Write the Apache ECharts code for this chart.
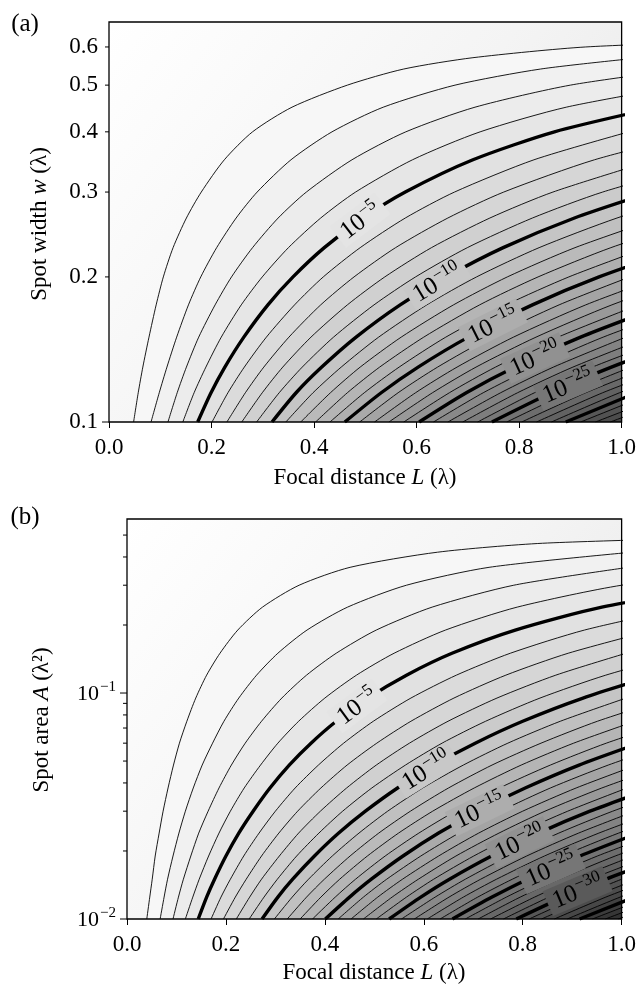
<!DOCTYPE html>
<html>
<head>
<meta charset="utf-8">
<script src="https://cdn.jsdelivr.net/npm/echarts@6/dist/echarts.min.js"></script>
<style>
html, body { margin: 0; padding: 0; background: #fff; }
#main { width: 639px; height: 986px; }
</style>
</head>
<body>
<div id="main"></div>
<script>
// tick values
var focalTicks = [0, 0.2, 0.4, 0.6, 0.8, 1.0];
var widthTicks = [0.1, 0.2, 0.3, 0.4, 0.5, 0.6];
var areaMajorTicks = [0.01, 0.1];
var areaMinorTicks = [0.02, 0.03, 0.04, 0.05, 0.06, 0.07, 0.08, 0.09, 0.2, 0.3, 0.4, 0.5];

// (a) contour lines 10^-1 ... 10^-33 : focal distance L read at each spot width
var widthLevels = [0.1, 0.115, 0.13, 0.15, 0.175, 0.2, 0.23, 0.265, 0.3, 0.35, 0.4, 0.45, 0.5, 0.54, 0.57, 0.6, 0.62];
var focalA = [
  [0.048, 0.057, 0.066, 0.078, 0.092, 0.106, 0.125, 0.151, 0.180, 0.225, 0.280, 0.357, 0.465, 0.575, 0.710, 0.930, 1.280],
  [0.082, 0.098, 0.113, 0.132, 0.155, 0.179, 0.210, 0.248, 0.289, 0.355, 0.435, 0.535, 0.675, 0.842, 1.038],
  [0.115, 0.133, 0.151, 0.175, 0.207, 0.239, 0.280, 0.330, 0.385, 0.474, 0.579, 0.714, 0.900, 1.122],
  [0.144, 0.166, 0.189, 0.219, 0.258, 0.299, 0.350, 0.413, 0.481, 0.592, 0.724, 0.892, 1.124],
  [0.173, 0.199, 0.226, 0.263, 0.310, 0.359, 0.420, 0.496, 0.578, 0.710, 0.869, 1.071],
  [0.201, 0.232, 0.264, 0.307, 0.362, 0.418, 0.490, 0.578, 0.674, 0.829, 1.014],
  [0.230, 0.266, 0.302, 0.351, 0.413, 0.478, 0.559, 0.661, 0.770, 0.947, 1.159],
  [0.259, 0.299, 0.339, 0.394, 0.465, 0.538, 0.629, 0.743, 0.866, 1.065],
  [0.288, 0.332, 0.377, 0.438, 0.517, 0.598, 0.699, 0.826, 0.963, 1.184],
  [0.318, 0.365, 0.415, 0.482, 0.568, 0.658, 0.769, 0.908, 1.059],
  [0.345, 0.398, 0.453, 0.526, 0.620, 0.717, 0.839, 0.991, 1.155],
  [0.374, 0.432, 0.490, 0.570, 0.672, 0.777, 0.909, 1.074],
  [0.403, 0.465, 0.528, 0.614, 0.723, 0.837, 0.979, 1.156],
  [0.431, 0.498, 0.566, 0.657, 0.775, 0.897, 1.049],
  [0.460, 0.531, 0.603, 0.701, 0.826, 0.956, 1.119],
  [0.489, 0.564, 0.641, 0.745, 0.878, 1.016],
  [0.518, 0.598, 0.679, 0.789, 0.930, 1.076],
  [0.546, 0.631, 0.716, 0.833, 0.981, 1.136],
  [0.575, 0.664, 0.754, 0.876, 1.033],
  [0.605, 0.697, 0.792, 0.920, 1.085],
  [0.633, 0.730, 0.830, 0.964, 1.136],
  [0.661, 0.764, 0.867, 1.008],
  [0.690, 0.797, 0.905, 1.052],
  [0.719, 0.830, 0.943, 1.096],
  [0.747, 0.863, 0.980, 1.139],
  [0.776, 0.896, 1.018],
  [0.805, 0.930, 1.056],
  [0.834, 0.963, 1.094],
  [0.863, 0.996, 1.131],
  [0.891, 1.029],
  [0.920, 1.062],
  [0.949, 1.096],
  [0.978, 1.129]
];

// (b) contour lines 10^-1 ... 10^-38 : focal distance L read at each spot area
var areaLevels = [0.01, 0.0125, 0.015, 0.019, 0.024, 0.03, 0.038, 0.048, 0.06, 0.075, 0.095, 0.12, 0.15, 0.19, 0.24, 0.3, 0.36, 0.42, 0.46, 0.49];
var focalB = [
  [0.040, 0.046, 0.051, 0.057, 0.065, 0.073, 0.083, 0.094, 0.106, 0.121, 0.139, 0.161, 0.188, 0.224, 0.274, 0.348, 0.451, 0.628, 0.840, 1.250],
  [0.067, 0.075, 0.082, 0.093, 0.105, 0.118, 0.134, 0.152, 0.173, 0.196, 0.226, 0.262, 0.305, 0.364, 0.446, 0.565, 0.732, 1.021],
  [0.093, 0.104, 0.114, 0.129, 0.145, 0.164, 0.186, 0.211, 0.239, 0.272, 0.313, 0.363, 0.423, 0.504, 0.617, 0.782, 1.014],
  [0.118, 0.133, 0.146, 0.165, 0.186, 0.209, 0.237, 0.270, 0.305, 0.347, 0.400, 0.464, 0.540, 0.644, 0.789, 1.000, 1.296],
  [0.144, 0.161, 0.177, 0.200, 0.226, 0.255, 0.289, 0.328, 0.372, 0.423, 0.487, 0.565, 0.657, 0.785, 0.960, 1.217],
  [0.170, 0.190, 0.209, 0.236, 0.267, 0.300, 0.340, 0.387, 0.438, 0.498, 0.574, 0.666, 0.775, 0.925, 1.131],
  [0.195, 0.219, 0.241, 0.272, 0.307, 0.345, 0.392, 0.445, 0.505, 0.574, 0.661, 0.766, 0.892, 1.065],
  [0.221, 0.248, 0.272, 0.308, 0.347, 0.391, 0.444, 0.504, 0.571, 0.649, 0.748, 0.867, 1.009],
  [0.247, 0.277, 0.304, 0.343, 0.388, 0.436, 0.495, 0.563, 0.637, 0.725, 0.835, 0.968, 1.127],
  [0.273, 0.305, 0.335, 0.379, 0.428, 0.482, 0.547, 0.621, 0.704, 0.800, 0.922, 1.069],
  [0.298, 0.334, 0.367, 0.415, 0.469, 0.527, 0.598, 0.680, 0.770, 0.876, 1.009],
  [0.324, 0.363, 0.399, 0.451, 0.509, 0.573, 0.650, 0.738, 0.837, 0.951, 1.096],
  [0.350, 0.392, 0.430, 0.486, 0.549, 0.618, 0.702, 0.797, 0.903, 1.027],
  [0.375, 0.421, 0.462, 0.522, 0.590, 0.664, 0.753, 0.856, 0.969, 1.102],
  [0.401, 0.450, 0.494, 0.558, 0.630, 0.709, 0.805, 0.914, 1.036],
  [0.427, 0.478, 0.525, 0.594, 0.671, 0.755, 0.856, 0.973, 1.102],
  [0.453, 0.507, 0.557, 0.630, 0.711, 0.800, 0.908, 1.031],
  [0.478, 0.536, 0.589, 0.665, 0.752, 0.845, 0.960, 1.090],
  [0.504, 0.565, 0.620, 0.701, 0.792, 0.891, 1.011],
  [0.530, 0.594, 0.652, 0.737, 0.832, 0.936, 1.063],
  [0.555, 0.623, 0.684, 0.773, 0.873, 0.982, 1.114],
  [0.581, 0.651, 0.715, 0.808, 0.913, 1.027],
  [0.607, 0.680, 0.747, 0.844, 0.954, 1.073],
  [0.633, 0.709, 0.779, 0.880, 0.994, 1.118],
  [0.658, 0.738, 0.810, 0.916, 1.034],
  [0.684, 0.767, 0.842, 0.951, 1.075],
  [0.710, 0.795, 0.874, 0.987, 1.115],
  [0.735, 0.824, 0.905, 1.023],
  [0.761, 0.853, 0.937, 1.059],
  [0.787, 0.882, 0.968, 1.094],
  [0.813, 0.911, 1.000],
  [0.838, 0.940, 1.032],
  [0.864, 0.968, 1.063],
  [0.890, 0.997, 1.095],
  [0.915, 1.026],
  [0.941, 1.055],
  [0.967, 1.084],
  [0.993, 1.112]
];

// labelled contours: [decade, focal distance where the label sits]
var labelsA = [[5, 0.49], [10, 0.64], [15, 0.749], [20, 0.831], [25, 0.895]];
var labelsB = [[5, 0.465], [10, 0.605], [15, 0.713], [20, 0.794], [25, 0.857], [30, 0.911]];

var FONT = '"Liberation Serif", "DejaVu Serif", serif';

function shade(k) {
  var g = Math.max(0, Math.round(255 - 5.5 * k));
  return 'rgb(' + g + ',' + g + ',' + g + ')';
}

function contourSeries(rows, levels, gi) {
  var areas = [], lines = [];
  rows.forEach(function (row, i) {
    var k = i + 1;
    var pts = row.map(function (L, j) { return [L, levels[j]]; });
    var common = {
      type: 'line', xAxisIndex: gi, yAxisIndex: gi, data: pts,
      smooth: 0.25, symbol: 'none', silent: true, animation: false
    };
    areas.push(Object.assign({}, common, {
      z: 1,
      lineStyle: { width: 0, opacity: 0 },
      areaStyle: { color: shade(k + 0.5), opacity: 1, origin: 'start' }
    }));
    lines.push(Object.assign({}, common, {
      z: 3,
      lineStyle: { color: '#000', width: k % 5 === 0 ? 3.4 : 0.9 }
    }));
  });
  return areas.concat(lines);
}

function xAxis(gi) {
  return {
    type: 'value', gridIndex: gi, min: 0, max: 1, interval: 0.2,
    axisLine: { show: false },
    axisTick: { show: true, inside: false, length: 6, lineStyle: { color: '#000', width: 1 } },
    axisLabel: { color: '#000', fontFamily: FONT, fontSize: 23, margin: 14,
      formatter: function (v) { return v.toFixed(1); } },
    splitLine: { show: false }
  };
}

function yAxis(gi, min, max) {
  return {
    type: 'log', logBase: 10, gridIndex: gi, min: min, max: max,
    axisLine: { show: false },
    axisTick: { show: false }, axisLabel: { show: false },
    splitLine: { show: false }, minorTick: { show: false }
  };
}

var bg = {
  type: 'linear', x: 0, y: 0, x2: 1, y2: 1,
  colorStops: [{ offset: 0, color: '#ffffff' }, { offset: 0.5, color: '#f4f4f4' }, { offset: 1, color: '#e4e4e4' }]
};

var chart = echarts.init(document.getElementById('main'), null, { renderer: 'canvas' });

var option = {
  animation: false,
  backgroundColor: '#fff',
  grid: [
    { left: 109, top: 22, width: 513, height: 400, show: true, borderWidth: 0, backgroundColor: bg },
    { left: 127, top: 519, width: 495, height: 400, show: true, borderWidth: 0, backgroundColor: bg }
  ],
  xAxis: [xAxis(0), xAxis(1)],
  yAxis: [yAxis(0, 0.1, 0.676), yAxis(1, 0.01, 0.589)],
  series: contourSeries(focalA, widthLevels, 0).concat(contourSeries(focalB, areaLevels, 1))
};
chart.setOption(option);

// ---- text, frame and ticks drawn on top ----
function supStyle(base, sup, raise) {
  return {
    b: { fontFamily: FONT, fontSize: base, fill: '#000', verticalAlign: 'bottom', lineHeight: base + 2 },
    s: { fontFamily: FONT, fontSize: sup, fill: '#000', verticalAlign: 'bottom', lineHeight: base + 2, padding: [0, 0, raise, 1] }
  };
}
var labelRich = supStyle(25, 17, 11);
var tickRich = supStyle(22, 15, 10);

function contourLabels(rows, levels, layout, gi) {
  return layout.map(function (item) {
    var k = item[0], L = item[1], row = rows[k - 1];
    var j = 0;
    while (j < row.length - 2 && row[j + 1] < L) j++;
    var p1 = chart.convertToPixel({ gridIndex: gi }, [row[j], levels[j]]);
    var p2 = chart.convertToPixel({ gridIndex: gi }, [row[j + 1], levels[j + 1]]);
    var t = (L - row[j]) / (row[j + 1] - row[j]);
    var x = p1[0] + t * (p2[0] - p1[0]);
    var y = p1[1] + t * (p2[1] - p1[1]);
    return {
      type: 'text', x: x, y: y, z: 100,
      rotation: Math.atan2(p1[1] - p2[1], p2[0] - p1[0]),
      style: {
        text: '{b|10}{s|\u2212' + k + '}', rich: labelRich,
        align: 'center', verticalAlign: 'middle',
        backgroundColor: shade(k), padding: [0, 6, 0, 6]
      }
    };
  });
}

function frame(gi, xMin, xMax, yMin, yMax) {
  var p0 = chart.convertToPixel({ gridIndex: gi }, [xMin, yMax]);
  var p1 = chart.convertToPixel({ gridIndex: gi }, [xMax, yMin]);
  return { type: 'rect', z: 110, shape: { x: p0[0], y: p0[1], width: p1[0] - p0[0], height: p1[1] - p0[1] },
    style: { fill: null, stroke: '#000', lineWidth: 1.3 } };
}

function yTicks(gi, values, len, texts) {
  var els = [];
  values.forEach(function (v, i) {
    var p = chart.convertToPixel({ gridIndex: gi }, [0, v]);
    els.push({ type: 'line', z: 100, shape: { x1: p[0] - len, y1: p[1], x2: p[0], y2: p[1] },
      style: { stroke: '#000', lineWidth: 1 } });
    if (texts) {
      var t = texts[i];
      els.push({ type: 'text', z: 100, x: p[0] - 11, y: p[1],
        style: typeof t === 'string'
          ? { text: t, fill: '#000', font: '23px ' + FONT, align: 'right', verticalAlign: 'middle' }
          : { text: '{b|10}{s|\u2212' + t + '}', rich: tickRich, align: 'right', verticalAlign: 'middle' } });
    }
  });
  return els;
}

var titleRich = {
  n: { fontFamily: FONT, fontSize: 23, fill: '#000' },
  i: { fontFamily: FONT, fontSize: 23, fill: '#000', fontStyle: 'italic' }
};

function title(text, x, y, rot) {
  return { type: 'text', z: 100, x: x, y: y, rotation: rot || 0,
    style: { text: text, rich: titleRich, align: 'center', verticalAlign: 'middle' } };
}

var graphics = []
  .concat(contourLabels(focalA, widthLevels, labelsA, 0))
  .concat(contourLabels(focalB, areaLevels, labelsB, 1))
  .concat([frame(0, 0, 1, 0.1, 0.676), frame(1, 0, 1, 0.01, 0.589)])
  .concat(yTicks(0, [widthTicks[0]], 7, ['0.1']))
  .concat(yTicks(0, widthTicks.slice(1), 4, widthTicks.slice(1).map(function (v) { return v.toFixed(1); })))
  .concat(yTicks(1, areaMajorTicks, 7, [2, 1]))
  .concat(yTicks(1, areaMinorTicks, 4, null))
  .concat([
    title('{n|Spot width }{i|w}{n| (\u03bb)}', 40, 224, Math.PI / 2),
    title('{n|Focal distance }{i|L}{n| (\u03bb)}', 365, 478, 0),
    title('{n|Spot area }{i|A}{n| (\u03bb\u00b2)}', 42, 720, Math.PI / 2),
    title('{n|Focal distance }{i|L}{n| (\u03bb)}', 374, 973, 0),
    { type: 'text', z: 100, x: 25, y: 24, style: { text: '(a)', fill: '#000', font: '25px ' + FONT, align: 'center', verticalAlign: 'middle' } },
    { type: 'text', z: 100, x: 25, y: 517, style: { text: '(b)', fill: '#000', font: '25px ' + FONT, align: 'center', verticalAlign: 'middle' } }
  ]);

chart.setOption({ graphic: graphics });
</script>
</body>
</html>
